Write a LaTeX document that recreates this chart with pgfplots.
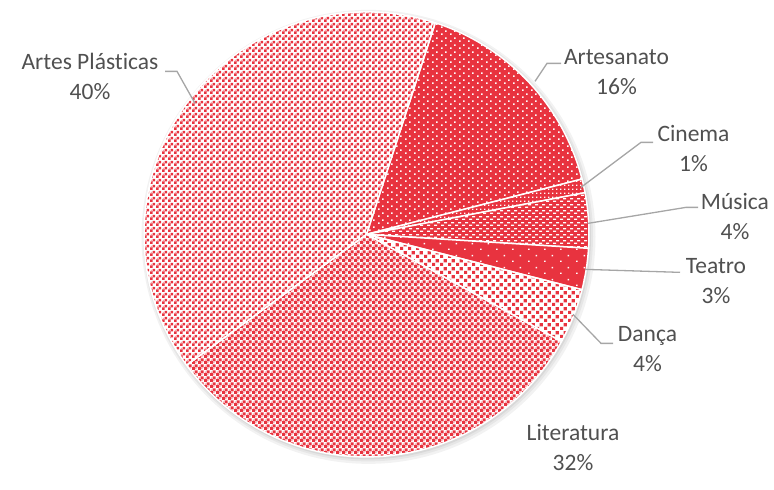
\documentclass[border=0pt]{standalone}
\usepackage{fontspec}
\setmainfont[Ligatures=NoCommon]{Carlito}
\usepackage{pgfplots}
\usepackage{pgfplotstable}
\pgfplotsset{compat=1.18}
\usetikzlibrary{patterns}

\definecolor{myred}{HTML}{E8333F}
\definecolor{txtgray}{HTML}{505050}
\definecolor{leadgray}{HTML}{A6A6A6}

% patterns (1pt = 1px in the output)
\pgfdeclarepatternformonly{apl}{\pgfqpoint{0pt}{0pt}}{\pgfqpoint{6pt}{6pt}}{\pgfqpoint{6pt}{6pt}}{%
  \pgfpathrectangle{\pgfqpoint{0pt}{0pt}}{\pgfqpoint{3pt}{3pt}}%
  \pgfpathrectangle{\pgfqpoint{3pt}{3pt}}{\pgfqpoint{3pt}{3pt}}%
  \pgfpathrectangle{\pgfqpoint{1pt}{4pt}}{\pgfqpoint{0.8pt}{0.8pt}}%
  \pgfusepath{fill}}
\pgfdeclarepatternformonly{lit}{\pgfqpoint{0pt}{0pt}}{\pgfqpoint{6pt}{6pt}}{\pgfqpoint{6pt}{6pt}}{%
  \pgfpathrectangle{\pgfqpoint{0pt}{0pt}}{\pgfqpoint{3.4pt}{3.4pt}}%
  \pgfpathrectangle{\pgfqpoint{3pt}{3pt}}{\pgfqpoint{3.4pt}{3.4pt}}%
  \pgfpathrectangle{\pgfqpoint{1pt}{4pt}}{\pgfqpoint{1pt}{1pt}}%
  \pgfpathrectangle{\pgfqpoint{4pt}{1pt}}{\pgfqpoint{1pt}{1pt}}%
  \pgfusepath{fill}}
\pgfdeclarepatternformonly{dan}{\pgfqpoint{0pt}{0pt}}{\pgfqpoint{8pt}{8pt}}{\pgfqpoint{8pt}{8pt}}{%
  \pgfpathrectangle{\pgfqpoint{0pt}{0pt}}{\pgfqpoint{3.6pt}{3.6pt}}%
  \pgfpathrectangle{\pgfqpoint{4pt}{4pt}}{\pgfqpoint{3.6pt}{3.6pt}}%
  \pgfusepath{fill}}
\pgfdeclarepatternformonly{art}{\pgfqpoint{0pt}{0pt}}{\pgfqpoint{9pt}{7pt}}{\pgfqpoint{9pt}{7pt}}{%
  \pgfpathrectangle{\pgfqpoint{0pt}{0pt}}{\pgfqpoint{1.8pt}{1.8pt}}%
  \pgfpathrectangle{\pgfqpoint{4.5pt}{3.5pt}}{\pgfqpoint{1.8pt}{1.8pt}}%
  \pgfusepath{fill}}
\pgfdeclarepatternformonly{tea}{\pgfqpoint{0pt}{0pt}}{\pgfqpoint{16pt}{12pt}}{\pgfqpoint{16pt}{12pt}}{%
  \pgfpathrectangle{\pgfqpoint{0pt}{0pt}}{\pgfqpoint{1.6pt}{1.6pt}}%
  \pgfpathrectangle{\pgfqpoint{8pt}{6pt}}{\pgfqpoint{1.6pt}{1.6pt}}%
  \pgfusepath{fill}}
\pgfdeclarepatternformonly{mus}{\pgfqpoint{0pt}{0pt}}{\pgfqpoint{7pt}{6pt}}{\pgfqpoint{7pt}{6pt}}{%
  \pgfpathrectangle{\pgfqpoint{0pt}{0pt}}{\pgfqpoint{3.5pt}{1.5pt}}%
  \pgfpathrectangle{\pgfqpoint{3.5pt}{3pt}}{\pgfqpoint{3.5pt}{1.5pt}}%
  \pgfusepath{fill}}
\pgfdeclarepatternformonly{cin}{\pgfqpoint{0pt}{0pt}}{\pgfqpoint{3.5pt}{3.5pt}}{\pgfqpoint{3.5pt}{3.5pt}}{%
  \pgfpathrectangle{\pgfqpoint{0pt}{0pt}}{\pgfqpoint{1.5pt}{1.5pt}}%
  \pgfusepath{fill}}

\tikzset{
  slice0/.style={preaction={fill=myred}, pattern=art, pattern color=white},
  slice1/.style={preaction={fill=myred}, pattern=cin, pattern color=white},
  slice2/.style={preaction={fill=myred}, pattern=mus, pattern color=white},
  slice3/.style={preaction={fill=myred}, pattern=tea, pattern color=white},
  slice4/.style={preaction={fill=white}, pattern=dan, pattern color=myred},
  slice5/.style={preaction={fill=white}, pattern=lit, pattern color=myred},
  slice6/.style={preaction={fill=white}, pattern=apl, pattern color=myred},
}

\pgfplotstableread[col sep=comma]{
label,value
Artesanato,16
Cinema,1
Música,4
Teatro,3
Dança,4
Literatura,32
Artes Plásticas,40
}\piedata

% cumulative angles, clockwise from 72 degrees
\def\cum{72}
\pgfplotsforeachungrouped \i in {0,...,6}{%
  \pgfplotstablegetelem{\i}{value}\of\piedata
  \pgfmathsetmacro\endang{\cum-3.6*\pgfplotsretval}%
  \expandafter\xdef\csname sa\i\endcsname{\cum}%
  \expandafter\xdef\csname ea\i\endcsname{\endang}%
  \xdef\cum{\endang}%
}

\begin{document}
\begin{tikzpicture}
\begin{axis}[width=774pt, height=467pt, scale only axis,
  xmin=0, xmax=774, ymin=0, ymax=467, hide axis, clip=false]
\path (axis cs:0,0) rectangle (axis cs:774,467);
% soft shadow
\fill[black, opacity=0.05] (axis cs:368.5,231.5) circle[radius=227pt];
\fill[black, opacity=0.05] (axis cs:368,232) circle[radius=225pt];
\fill[black, opacity=0.06] (axis cs:367.5,232.5) circle[radius=223.5pt];
% wedges
\pgfplotsinvokeforeach{0,...,6}{
  \fill[slice#1] (axis cs:366.5,234) -- ++(\csname sa#1\endcsname:222.5pt)
     arc[start angle=\csname sa#1\endcsname, end angle=\csname ea#1\endcsname, radius=222.5pt] -- cycle;
  \draw[white, line width=1.5pt, line join=round] (axis cs:366.5,234) -- ++(\csname sa#1\endcsname:222.5pt)
     arc[start angle=\csname sa#1\endcsname, end angle=\csname ea#1\endcsname, radius=222.5pt] -- cycle;
}
% leader lines
\tikzset{lead/.style={leadgray, line width=1.3pt}}
\draw[lead] (axis cs:561,405) -- (axis cs:547,405) -- (axis cs:535,387);
\draw[lead] (axis cs:653,326) -- (axis cs:641,326) -- (axis cs:581,281);
\draw[lead] (axis cs:698,261) -- (axis cs:686,261) -- (axis cs:588,245);
\draw[lead] (axis cs:680,196) -- (axis cs:585,199);
\draw[lead] (axis cs:613,125) -- (axis cs:601,125) -- (axis cs:573,154);
\draw[lead] (axis cs:165,397) -- (axis cs:177,397) -- (axis cs:195,365);
% labels
\tikzset{lab/.style={text=txtgray, align=center, inner sep=0pt,
  font=\fontsize{23.5}{30}\selectfont}}
\node[lab] at (axis cs:616.5,396) {Artesanato\\16\%};
\node[lab] at (axis cs:693.5,319.5) {Cinema\\1\%};
\node[lab] at (axis cs:735,252) {Música\\4\%};
\node[lab] at (axis cs:716,187.5) {Teatro\\3\%};
\node[lab] at (axis cs:647.5,119.5) {Dança\\4\%};
\node[lab] at (axis cs:573,21) {Literatura\\32\%};
\node[lab] at (axis cs:90,392) {Artes Plásticas\\40\%};
\end{axis}
\end{tikzpicture}
\end{document}
